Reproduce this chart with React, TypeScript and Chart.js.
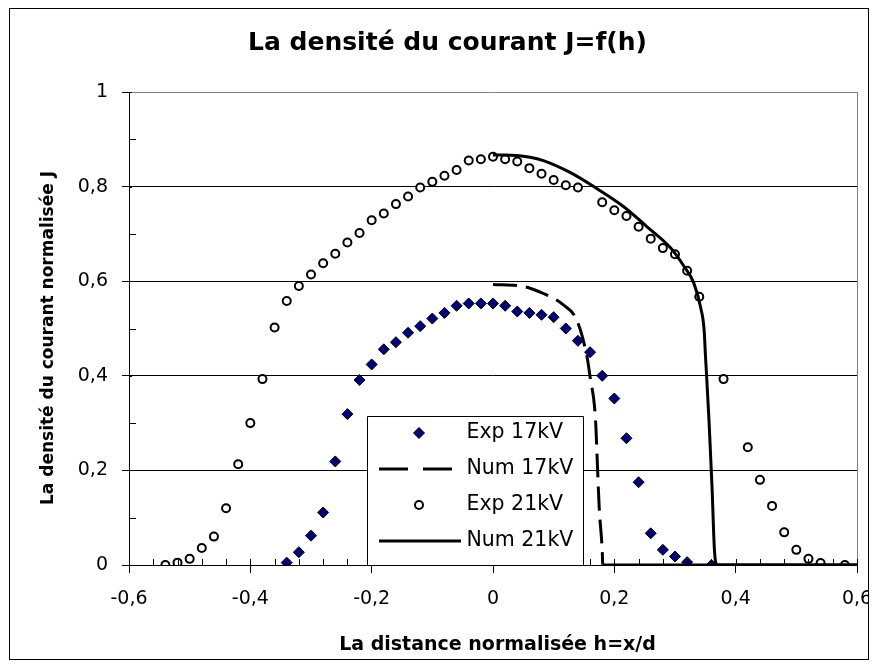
import React, { useEffect, useRef } from "react";
import { Chart, registerables } from "chart.js";

Chart.register(...registerables);

// ---------- data ----------
const exp17X = [-0.34, -0.32, -0.30, -0.28, -0.26, -0.24, -0.22, -0.20, -0.18, -0.16, -0.14, -0.12, -0.10, -0.08, -0.06, -0.04, -0.02, 0, 0.02, 0.04, 0.06, 0.08, 0.10, 0.12, 0.14, 0.16, 0.18, 0.20, 0.22, 0.24, 0.26, 0.28, 0.30, 0.32, 0.36];
const exp17Y = [0.005, 0.027, 0.062, 0.111, 0.219, 0.319, 0.391, 0.424, 0.456, 0.471, 0.491, 0.505, 0.521, 0.533, 0.548, 0.553, 0.553, 0.553, 0.548, 0.536, 0.533, 0.529, 0.524, 0.5, 0.474, 0.45, 0.40, 0.352, 0.268, 0.175, 0.067, 0.032, 0.018, 0.006, 0];

const num17X = [0, 0.05, 0.083, 0.116, 0.138, 0.155, 0.16, 0.169, 0.172, 0.175, 0.18, 0.181, 0.6];
const num17Y = [0.593, 0.589, 0.574, 0.55, 0.518, 0.44, 0.398, 0.307, 0.215, 0.123, 0.032, 0, 0];

const exp21X = [-0.54, -0.52, -0.50, -0.48, -0.46, -0.44, -0.42, -0.40, -0.38, -0.36, -0.34, -0.32, -0.30, -0.28, -0.26, -0.24, -0.22, -0.20, -0.18, -0.16, -0.14, -0.12, -0.10, -0.08, -0.06, -0.04, -0.02, 0, 0.02, 0.04, 0.06, 0.08, 0.10, 0.12, 0.14, 0.18, 0.20, 0.22, 0.24, 0.26, 0.28, 0.30, 0.32, 0.34, 0.38, 0.42, 0.44, 0.46, 0.48, 0.50, 0.52, 0.54, 0.58];
const exp21Y = [0, 0.005, 0.013, 0.036, 0.06, 0.12, 0.213, 0.30, 0.393, 0.502, 0.558, 0.59, 0.614, 0.638, 0.658, 0.682, 0.702, 0.729, 0.743, 0.763, 0.779, 0.798, 0.81, 0.823, 0.835, 0.855, 0.858, 0.863, 0.858, 0.853, 0.839, 0.827, 0.814, 0.803, 0.798, 0.767, 0.75, 0.738, 0.715, 0.69, 0.67, 0.657, 0.622, 0.567, 0.393, 0.249, 0.18, 0.125, 0.069, 0.032, 0.013, 0.004, 0];

const num21X = [0, 0.02, 0.061, 0.083, 0.127, 0.171, 0.215, 0.254, 0.293, 0.315, 0.331, 0.342, 0.348, 0.35, 0.356, 0.361, 0.365, 0.369, 0.6];
const num21Y = [0.867, 0.867, 0.862, 0.855, 0.83, 0.796, 0.758, 0.715, 0.67, 0.631, 0.596, 0.546, 0.497, 0.448, 0.307, 0.166, 0.032, 0, 0];

const xTicks = [-0.6, -0.4, -0.2, 0, 0.2, 0.4, 0.6];
const yTicks = [0, 0.2, 0.4, 0.6, 0.8, 1];
const seriesNames = ["Exp 17kV", "Num 17kV", "Exp 21kV", "Num 21kV"];
const chartTitle = "La densité du courant J=f(h)";
const xTitle = "La distance normalisée h=x/d";
const yTitle = "La densité du courant normalisée J";

// ---------- helpers ----------
const W = 861;
const H = 652;
const FONT = '"DejaVu Sans", "Liberation Sans", Arial, sans-serif';
const NAVY = "#000080";

const toPoints = (xs: number[], ys: number[]) => xs.map((x, i) => ({ x, y: ys[i] }));
const fmt = (v: number) => {
  const r = Math.round(v * 10) / 10;
  return (r === 0 ? "0" : String(r)).replace(".", ",");
};

const decorPlugin = {
  id: "decor",
  afterDraw(chart: any) {
    const { ctx, chartArea: a, scales } = chart;
    const xs = scales.x;
    const ys = scales.y;
    ctx.save();

    // right border of plot area (gray)
    ctx.strokeStyle = "#808080";
    ctx.lineWidth = 1;
    const rx = Math.round(a.right) + 0.5;
    ctx.beginPath();
    ctx.moveTo(rx, a.top);
    ctx.lineTo(rx, a.bottom);
    ctx.stroke();

    // inner minor ticks
    ctx.strokeStyle = "#000";
    ctx.beginPath();
    for (let k = 0; k <= 30; k++) {
      const v = -0.6 + k * 0.04;
      const px = Math.round(xs.getPixelForValue(v)) + 0.5;
      ctx.moveTo(px, a.bottom);
      ctx.lineTo(px, a.bottom - 6);
    }
    for (let k = 0; k <= 10; k++) {
      const v = k * 0.1;
      const py = Math.round(ys.getPixelForValue(v)) + 0.5;
      ctx.moveTo(a.left, py);
      ctx.lineTo(a.left + (k % 2 === 1 ? 7 : 3), py);
    }
    ctx.stroke();

    // legend box
    const lx = 359.5, ly = 408.5, lw = 216, lb = 557;
    ctx.fillStyle = "#fff";
    ctx.fillRect(lx, ly, lw, lb - ly);
    ctx.strokeStyle = "#000";
    ctx.lineWidth = 1;
    ctx.beginPath();
    ctx.moveTo(lx, lb);
    ctx.lineTo(lx, ly);
    ctx.lineTo(lx + lw, ly);
    ctx.lineTo(lx + lw, lb);
    ctx.stroke();

    const rows = [425, 461, 497, 533];
    const symX = 411;
    // Exp 17kV diamond
    ctx.beginPath();
    const r = 5.5;
    ctx.moveTo(symX - r, rows[0]);
    ctx.lineTo(symX, rows[0] - r);
    ctx.lineTo(symX + r, rows[0]);
    ctx.lineTo(symX, rows[0] + r);
    ctx.closePath();
    ctx.fillStyle = NAVY;
    ctx.fill();
    ctx.lineWidth = 1;
    ctx.strokeStyle = "#000";
    ctx.stroke();
    // Num 17kV dashed
    ctx.lineWidth = 3;
    ctx.setLineDash([29, 15]);
    ctx.beginPath();
    ctx.moveTo(371, rows[1]);
    ctx.lineTo(444, rows[1]);
    ctx.stroke();
    ctx.setLineDash([]);
    // Exp 21kV circle
    ctx.lineWidth = 2;
    ctx.beginPath();
    ctx.arc(symX, rows[2], 4, 0, Math.PI * 2);
    ctx.fillStyle = "#fff";
    ctx.fill();
    ctx.stroke();
    // Num 21kV solid
    ctx.lineWidth = 3;
    ctx.beginPath();
    ctx.moveTo(371, rows[3]);
    ctx.lineTo(453, rows[3]);
    ctx.stroke();

    ctx.fillStyle = "#000";
    ctx.font = `20.5px ${FONT}`;
    ctx.textAlign = "left";
    ctx.textBaseline = "middle";
    seriesNames.forEach((n, i) => ctx.fillText(n, 458.5, rows[i]));

    // titles
    ctx.textBaseline = "alphabetic";
    ctx.textAlign = "center";
    ctx.font = `bold 25px ${FONT}`;
    ctx.fillText(chartTitle, 439.5, 42);
    ctx.font = `bold 19px ${FONT}`;
    ctx.fillText(xTitle, 489.5, 642);
    ctx.save();
    ctx.translate(45.3, 330);
    ctx.rotate(-Math.PI / 2);
    ctx.font = `bold 17px ${FONT}`;
    ctx.fillText(yTitle, 0, 0);
    ctx.restore();

    // outer frame
    ctx.strokeStyle = "#000";
    ctx.lineWidth = 1;
    ctx.strokeRect(1.5, 0.5, 859, 651);

    ctx.restore();
  },
};

export default function App() {
  const ref = useRef<HTMLCanvasElement | null>(null);

  useEffect(() => {
    if (!ref.current) return;
    const chart = new Chart(ref.current, {
      type: "scatter",
      data: {
        datasets: [
          {
            label: seriesNames[0],
            data: toPoints(exp17X, exp17Y),
            pointStyle: "rectRot",
            pointRadius: 5.5,
            pointBackgroundColor: NAVY,
            pointBorderColor: "#000",
            pointBorderWidth: 1,
            showLine: false,
            order: 2,
          },
          {
            label: seriesNames[1],
            data: toPoints(num17X, num17Y),
            showLine: true,
            pointRadius: 0,
            borderColor: "#000",
            borderWidth: 3,
            borderDash: [24, 9],
            cubicInterpolationMode: "monotone",
            segment: {
              borderDash: (c: any) => (c.p0.parsed.y === 0 && c.p1.parsed.y === 0 ? [] : undefined),
            },
            order: 0,
          },
          {
            label: seriesNames[2],
            data: toPoints(exp21X, exp21Y),
            pointStyle: "circle",
            pointRadius: 4,
            pointBackgroundColor: "#fff",
            pointBorderColor: "#000",
            pointBorderWidth: 2,
            showLine: false,
            order: 3,
          },
          {
            label: seriesNames[3],
            data: toPoints(num21X, num21Y),
            showLine: true,
            pointRadius: 0,
            borderColor: "#000",
            borderWidth: 3,
            cubicInterpolationMode: "monotone",
            order: 1,
          },
        ] as any,
      },
      options: {
        animation: false,
        responsive: false,
        devicePixelRatio: 1,
        events: [],
        layout: { padding: { top: 84, right: 12, left: 0, bottom: 0 } },
        plugins: {
          legend: { display: false },
          title: { display: false },
          tooltip: { enabled: false },
        },
        scales: {
          x: {
            type: "linear",
            min: -0.6,
            max: 0.6,
            afterBuildTicks: (s: any) => {
              s.ticks = xTicks.map((v) => ({ value: v }));
            },
            afterFit: (s: any) => {
              s.height = 95;
              s.paddingLeft = 0;
              s.paddingRight = 0;
            },
            ticks: {
              autoSkip: false,
              maxRotation: 0,
              color: "#000",
              padding: 15,
              font: { family: FONT, size: 19 },
              callback: (v: any) => fmt(Number(v)),
            },
            grid: {
              drawOnChartArea: false,
              drawTicks: true,
              tickLength: 8,
              tickColor: "#000",
            },
            border: { display: true, color: "#000", width: 1 },
          },
          y: {
            type: "linear",
            min: 0,
            max: 1,
            afterBuildTicks: (s: any) => {
              s.ticks = yTicks.map((v) => ({ value: v }));
            },
            afterFit: (s: any) => {
              s.width = 121;
            },
            ticks: {
              color: "#000",
              padding: 14,
              font: { family: FONT, size: 19 },
              callback: (v: any) => fmt(Number(v)),
            },
            grid: {
              color: (c: any) => (c.tick && c.tick.value === 1 ? "#808080" : "#000"),
              tickColor: "#000",
              tickLength: 7,
              lineWidth: 1,
            },
            border: { display: true, color: "#000", width: 1 },
          },
        },
      },
      plugins: [decorPlugin],
    });
    return () => chart.destroy();
  }, []);

  return (
    <canvas
      ref={ref}
      width={W}
      height={H}
      style={{ display: "block", width: W + "px", height: H + "px" }}
    />
  );
}
